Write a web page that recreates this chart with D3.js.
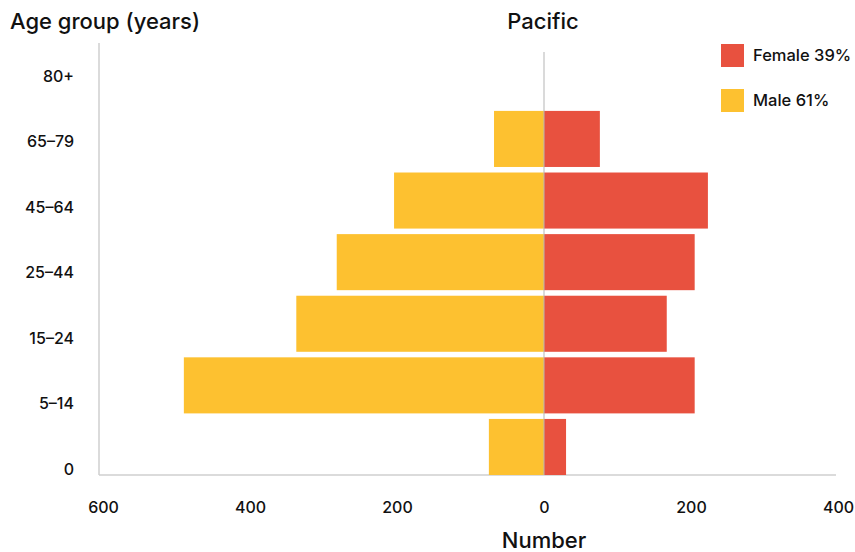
<!DOCTYPE html>
<html><head><meta charset="utf-8">
<script src="https://cdn.jsdelivr.net/npm/d3@7"></script>
<style>
html,body{margin:0;padding:0;background:#fff;}
svg{display:block;font-family:Inter,"Noto Sans",sans-serif;}
</style></head>
<body><svg id="chart" width="855" height="552"></svg>
<script>
const categories = ["80+","65–79","45–64","25–44","15–24","5–14","0"];
const maleValues = [0, 68, 204, 282, 337, 490, 75];
const femaleValues = [0, 76, 223, 205, 167, 205, 30];
const xTicks = [-600,-400,-200,0,200,400];
const legendLabels = ["Female 39%","Male 61%"];
const colors = {female:"#E8513F", male:"#FDC130"};

const svg = d3.select("#chart");
const x = d3.scaleLinear().domain([-600,400]).range([103,838]);
const y = d3.scaleBand().domain(categories).range([49.3,475]).paddingInner(0.09).paddingOuter(0);
const yLab = d3.scalePoint().domain(categories).range([76,469]);
const frameL = 99, frameR = 836, frameB = 475, frameT = 43;

// frame
svg.append("line").attr("x1",frameL).attr("x2",frameL).attr("y1",frameT).attr("y2",frameB)
  .attr("stroke","#cfcfcf").attr("stroke-width",1.5);
svg.append("line").attr("x1",frameL).attr("x2",frameR).attr("y1",frameB).attr("y2",frameB)
  .attr("stroke","#cfcfcf").attr("stroke-width",1.5);

const rows = categories.map((c,i)=>({c, m:maleValues[i], f:femaleValues[i]}));
svg.append("g").selectAll("rect").data(rows).join("rect")
  .attr("x", d=>x(-d.m)).attr("width", d=>x(0)-x(-d.m))
  .attr("y", d=>y(d.c)).attr("height", y.bandwidth())
  .attr("fill", colors.male);
svg.append("g").selectAll("rect").data(rows).join("rect")
  .attr("x", x(0)).attr("width", d=>x(d.f)-x(0))
  .attr("y", d=>y(d.c)).attr("height", y.bandwidth())
  .attr("fill", colors.female);

// zero line
svg.append("line").attr("x1",x(0)).attr("x2",x(0)).attr("y1",52).attr("y2",frameB)
  .attr("stroke","#b8b8b8").attr("stroke-width",1.2).attr("opacity",0.85);

// y labels
svg.append("g").selectAll("text").data(categories).join("text")
  .attr("x",74).attr("y",d=>yLab(d)).attr("dy","0.35em")
  .attr("text-anchor","end").attr("font-size",16).attr("font-weight",500).attr("fill","#111").text(d=>d);

// x axis
const xAxis = d3.axisBottom(x).tickValues(xTicks).tickFormat(d=>Math.abs(d)).tickSize(0).tickPadding(0);
const gx = svg.append("g").attr("transform","translate(0,502)").call(xAxis);
gx.select(".domain").remove();
gx.selectAll("text").attr("font-size",16).attr("font-weight",500).attr("fill","#111").attr("font-family","Inter,'Noto Sans',sans-serif");

// titles
svg.append("text").attr("x",10).attr("y",29).attr("font-size",22).attr("font-weight",500).attr("fill","#111").text("Age group (years)");
svg.append("text").attr("x",x(0)-1).attr("y",29).attr("text-anchor","middle").attr("font-size",22).attr("font-weight",500).attr("fill","#111").text("Pacific");
svg.append("text").attr("x",x(0)).attr("y",548).attr("text-anchor","middle").attr("font-size",22).attr("font-weight",500).attr("fill","#111").text("Number");

// legend
const lg = svg.append("g").selectAll("g").data(legendLabels).join("g")
  .attr("transform",(d,i)=>`translate(721,${44+i*45})`);
lg.append("rect").attr("width",23).attr("height",23).attr("fill",(d,i)=>i===0?colors.female:colors.male);
lg.append("text").attr("x",32).attr("y",11.5).attr("dy","0.35em").attr("font-size",16.5).attr("font-weight",500).attr("fill","#111").text(d=>d);
</script></body></html>
